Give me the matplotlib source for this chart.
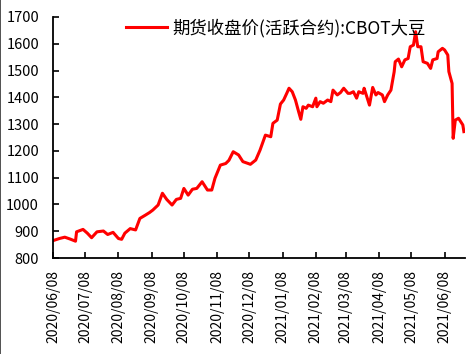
import matplotlib
matplotlib.use("Agg")
import matplotlib.pyplot as plt
import matplotlib.dates as mdates
from matplotlib.lines import Line2D
import pandas as pd

plt.rcParams['font.family'] = ['Noto Sans CJK SC', 'DejaVu Sans']

dates = [
    "2020-06-08", "2020-06-14", "2020-06-19", "2020-06-24", "2020-06-29", "2020-06-30",
    "2020-07-06", "2020-07-10", "2020-07-14", "2020-07-19", "2020-07-25", "2020-07-29",
    "2020-08-03", "2020-08-08", "2020-08-11", "2020-08-14", "2020-08-19", "2020-08-24",
    "2020-08-28", "2020-09-02", "2020-09-06", "2020-09-09", "2020-09-14", "2020-09-18",
    "2020-09-22", "2020-09-27", "2020-10-01", "2020-10-05", "2020-10-08", "2020-10-12",
    "2020-10-16", "2020-10-20", "2020-10-25", "2020-10-30", "2020-11-03", "2020-11-06",
    "2020-11-11", "2020-11-16", "2020-11-19", "2020-11-23", "2020-11-28", "2020-12-02",
    "2020-12-07", "2020-12-09", "2020-12-14", "2020-12-18", "2020-12-23", "2020-12-28",
    "2020-12-30", "2021-01-03", "2021-01-06", "2021-01-09", "2021-01-12", "2021-01-14",
    "2021-01-17", "2021-01-20", "2021-01-23", "2021-01-25", "2021-01-27", "2021-01-30",
    "2021-02-01", "2021-02-05", "2021-02-08", "2021-02-09", "2021-02-12", "2021-02-15",
    "2021-02-19", "2021-02-22", "2021-02-24", "2021-02-28", "2021-03-03", "2021-03-06",
    "2021-03-10", "2021-03-12", "2021-03-15", "2021-03-18", "2021-03-20", "2021-03-24",
    "2021-03-25", "2021-03-27", "2021-03-30", "2021-04-02", "2021-04-05", "2021-04-07",
    "2021-04-11", "2021-04-13", "2021-04-16", "2021-04-19", "2021-04-20", "2021-04-22",
    "2021-04-23", "2021-04-26", "2021-04-29", "2021-05-02", "2021-05-05", "2021-05-07",
    "2021-05-10", "2021-05-12", "2021-05-14", "2021-05-17", "2021-05-19", "2021-05-23",
    "2021-05-26", "2021-05-28", "2021-06-01", "2021-06-02", "2021-06-06", "2021-06-08",
    "2021-06-11", "2021-06-12", "2021-06-15", "2021-06-16", "2021-06-18", "2021-06-21",
    "2021-06-25", "2021-06-26",
]
prices = [
    865, 873, 878, 871, 863, 898,
    907, 893, 876, 898, 901, 888,
    896, 873, 870, 893, 910, 905,
    948, 960, 970, 979, 998, 1042,
    1019, 998, 1019, 1023, 1060, 1035,
    1057, 1060, 1085, 1054, 1054, 1098,
    1147, 1153, 1165, 1197, 1185, 1160,
    1153, 1150, 1166, 1203, 1259, 1253,
    1303, 1315, 1375, 1390, 1416, 1434,
    1421, 1390, 1346, 1318, 1365, 1359,
    1371, 1365, 1397, 1365, 1384, 1378,
    1390, 1384, 1427, 1409, 1418, 1434,
    1415, 1415, 1421, 1397, 1421, 1415,
    1434, 1409, 1371, 1437, 1409, 1418,
    1409, 1384, 1409, 1427, 1450, 1495,
    1533, 1543, 1514, 1540, 1545, 1589,
    1595, 1645, 1589, 1589, 1533, 1527,
    1508, 1540, 1545, 1570, 1583, 1577,
    1558, 1496, 1452, 1247, 1315, 1322,
    1297, 1272,
]
series_name = "期货收盘价(活跃合约):CBOT大豆"
tick_dates = ["2020-06-08", "2020-07-08", "2020-08-08", "2020-09-08", "2020-10-08",
              "2020-11-08", "2020-12-08", "2021-01-08", "2021-02-08", "2021-03-08",
              "2021-04-08", "2021-05-08", "2021-06-08"]
yticks = [800, 900, 1000, 1100, 1200, 1300, 1400, 1500, 1600, 1700]

x = pd.to_datetime(dates)

fig = plt.figure(figsize=(4.73, 3.54), dpi=100)
ax = fig.add_axes([0.112, 0.271, 0.871, 0.681])
ax.plot(x, prices, color='#FF0000', lw=2.2, label=series_name, solid_joinstyle='round')

ax.set_ylim(800, 1700)
ax.set_yticks(yticks)
ax.set_xlim(pd.Timestamp("2020-06-08"), pd.Timestamp("2021-06-27"))
ax.set_xticks(pd.to_datetime(tick_dates))
ax.xaxis.set_major_formatter(mdates.DateFormatter("%Y/%m/%d"))
for lbl in ax.get_xticklabels():
    lbl.set_rotation(90)

ax.tick_params(axis='both', direction='in', length=4, width=1.2, colors='black')
ax.tick_params(axis='y', pad=10, labelsize=10.5)
ax.tick_params(axis='x', pad=8.5, labelsize=10)
for s in ['top', 'right']:
    ax.spines[s].set_visible(False)
for s in ['left', 'bottom']:
    ax.spines[s].set_linewidth(1.3)
    ax.spines[s].set_color('black')

ax.legend(loc='center', bbox_to_anchor=(0.541, 0.955), frameon=False, fontsize=12.5,
          handlelength=2.4, handletextpad=0.3, borderaxespad=0)

fig.add_artist(Line2D([0.001, 0.001], [0, 1], transform=fig.transFigure,
                      color='#333333', lw=1.2))

fig.savefig("out.png", dpi=100)
